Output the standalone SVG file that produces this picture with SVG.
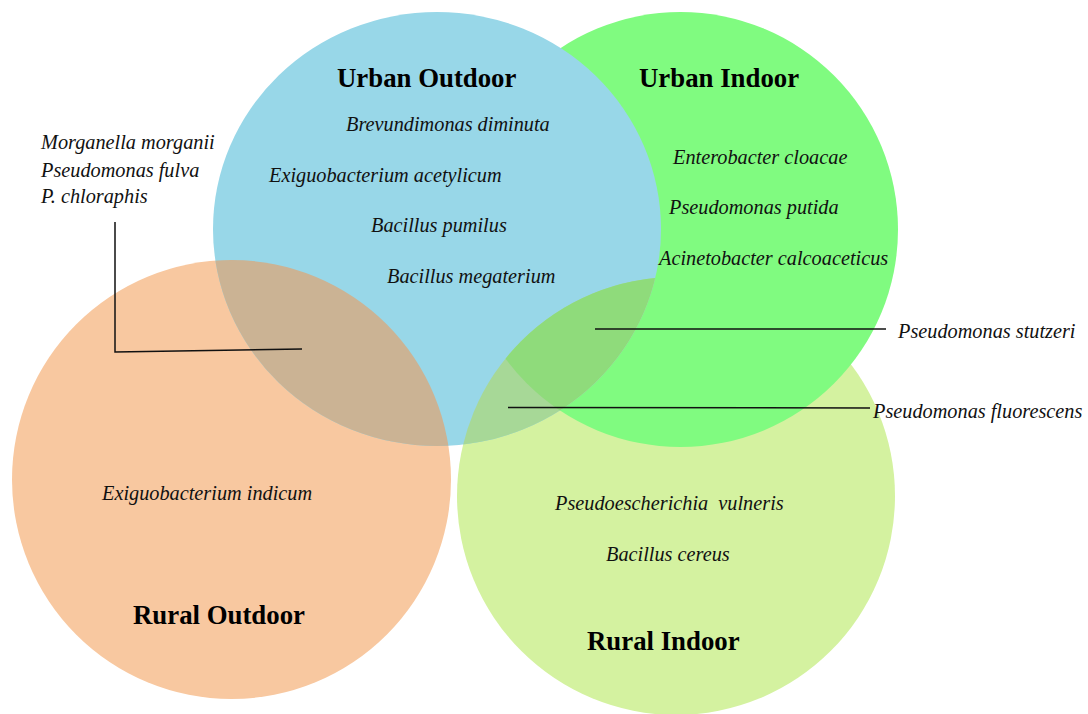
<svg xmlns="http://www.w3.org/2000/svg" width="1088" height="714" viewBox="0 0 1088 714">
  <style>
    .title { font-family: "Liberation Serif", "Times New Roman", serif; font-weight: bold; font-size: 26.8px; fill: #000; }
    .sp { font-family: "Liberation Serif", "Times New Roman", serif; font-style: italic; font-size: 20.3px; fill: #111; }
    .conn { fill: none; stroke: #111; stroke-width: 1.5; }
  </style>
  <defs>
    <clipPath id="clipB"><ellipse cx="437" cy="229" rx="224" ry="217"/></clipPath>
    <clipPath id="clipL"><circle cx="676" cy="496" r="219"/></clipPath>
  </defs>
  <rect width="1088" height="714" fill="#ffffff"/>

  <g id="rural-outdoor">
    <circle cx="231.5" cy="479.5" r="219.5" fill="#f8c8a0"/>
  </g>
  <g id="rural-indoor">
    <circle cx="676" cy="496" r="219" fill="#d4f2a0"/>
  </g>
  <g id="urban-indoor">
    <circle cx="680.5" cy="229.5" r="217.5" fill="#80fb80"/>
  </g>
  <g id="urban-outdoor">
    <ellipse cx="437" cy="229" rx="224" ry="217" fill="#98d7e8"/>
  </g>

  <g id="overlaps">
    <g clip-path="url(#clipB)">
      <circle cx="231.5" cy="479.5" r="219.5" fill="#cbb394"/>
      <circle cx="676" cy="496" r="219" fill="#a7d897"/>
      <g clip-path="url(#clipL)">
        <circle cx="680.5" cy="229.5" r="217.5" fill="#8fdb7b"/>
      </g>
    </g>
  </g>

  <g id="connectors">
    <polyline class="conn" points="115,222 115,352 302,349"/>
    <line class="conn" x1="595" y1="329" x2="886" y2="329"/>
    <line class="conn" x1="508" y1="407.5" x2="870" y2="408"/>
  </g>

  <g id="labels-urban-outdoor">
    <text class="title" x="337" y="87">Urban Outdoor</text>
    <text class="sp" x="346" y="131">Brevundimonas diminuta</text>
    <text class="sp" x="269" y="182">Exiguobacterium acetylicum</text>
    <text class="sp" x="371" y="232">Bacillus pumilus</text>
    <text class="sp" x="387" y="283">Bacillus megaterium</text>
  </g>
  <g id="labels-urban-indoor">
    <text class="title" x="639" y="87">Urban Indoor</text>
    <text class="sp" x="673" y="164">Enterobacter cloacae</text>
    <text class="sp" x="669" y="214">Pseudomonas putida</text>
    <text class="sp" x="659" y="265">Acinetobacter calcoaceticus</text>
  </g>
  <g id="labels-rural-outdoor">
    <text class="title" x="133" y="624">Rural Outdoor</text>
    <text class="sp" x="102" y="500">Exiguobacterium indicum</text>
  </g>
  <g id="labels-rural-indoor">
    <text class="title" x="587" y="650">Rural Indoor</text>
    <text class="sp" x="555" y="510" xml:space="preserve">Pseudoescherichia  vulneris</text>
    <text class="sp" x="606" y="561">Bacillus cereus</text>
  </g>
  <g id="labels-shared">
    <text class="sp" x="41" y="149">Morganella morganii</text>
    <text class="sp" x="41" y="177">Pseudomonas fulva</text>
    <text class="sp" x="41" y="203">P. chloraphis</text>
    <text class="sp" x="898" y="338">Pseudomonas stutzeri</text>
    <text class="sp" x="873" y="418">Pseudomonas fluorescens</text>
  </g>
</svg>
